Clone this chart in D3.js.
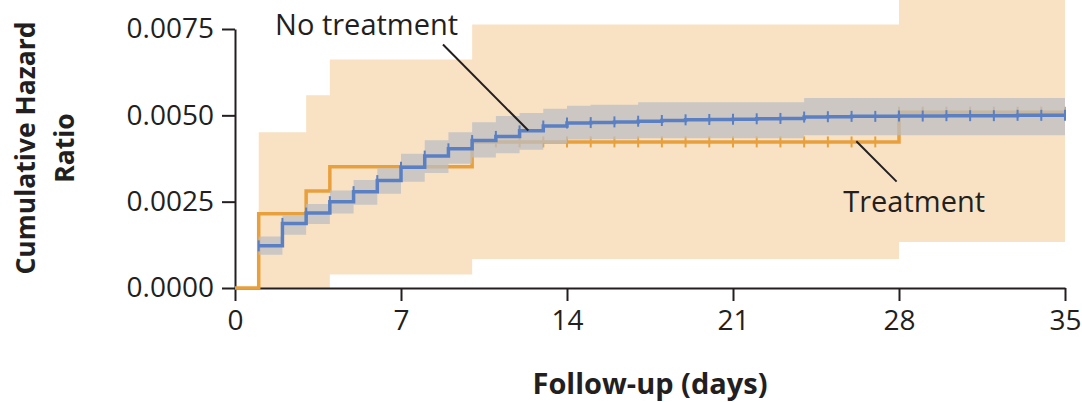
<!DOCTYPE html>
<html>
<head>
<meta charset="utf-8">
<script src="https://cdn.jsdelivr.net/npm/d3@7"></script>
<style>
  html, body { margin: 0; padding: 0; background: #ffffff; }
  svg { display: block; }
  text { font-family: "Open Sans", "Noto Sans", sans-serif; fill: #231f20; }
</style>
</head>
<body>
<svg id="chart" width="1082" height="402"></svg>
<script>
// ---- Data ----
const xTicks = [0, 7, 14, 21, 28, 35];
const yTicks = [0, 0.0025, 0.005, 0.0075];

// No treatment: cumulative hazard step at each day, with its confidence band
const noTreatmentDays = [1,2,3,4,5,6,7,8,9,10,11,12,13,14,15,16,17,18,19,20,21,22,23,24,25,26,27,28,29,30,31,32,33,34,35];
const noTreatmentHazard = [0.00122,0.00187,0.00217,0.00250,0.00279,0.00311,0.00350,0.00382,0.00403,0.00427,
  0.00439,0.00455,0.00469,0.00478,0.00479,0.00481,0.00483,0.00485,0.00487,0.00488,
  0.00489,0.00490,0.00491,0.00495,0.00496,0.00497,0.00497,0.00498,0.00498,0.00499,
  0.00499,0.00499,0.00500,0.00500,0.00500];
const noTreatmentLower = [0.00096,0.00154,0.00185,0.00216,0.00241,0.00273,0.00308,0.00333,0.00360,0.00378,
  0.00390,0.00400,0.00420,0.00430,0.00431,0.00431,0.00434,0.00434,0.00434,0.00434,
  0.00434,0.00434,0.00434,0.00442,0.00442,0.00442,0.00442,0.00442,0.00442,0.00442,
  0.00442,0.00442,0.00442,0.00442,0.00442];
const noTreatmentUpper = [0.00149,0.00209,0.00243,0.00282,0.00313,0.00347,0.00389,0.00428,0.00451,0.00480,
  0.00498,0.00507,0.00519,0.00528,0.00531,0.00531,0.00538,0.00538,0.00538,0.00538,
  0.00538,0.00538,0.00538,0.00550,0.00550,0.00550,0.00550,0.00550,0.00550,0.00550,
  0.00550,0.00550,0.00550,0.00550,0.00550];

// Treatment: step function and its confidence band
const treatmentDays = [0, 1, 3, 4, 10, 28, 35];
const treatmentHazard = [0, 0.00215, 0.00281, 0.00351, 0.00423, 0.00509, 0.00509];
const treatmentBandDays = [1, 3, 4, 10, 28, 35];
const treatmentLower = [0, 0, 0.00039, 0.00084, 0.00133, 0.00133];
const treatmentUpper = [0.00451, 0.00558, 0.00662, 0.00763, 0.0100, 0.0100];
const treatmentCensorDays = [10,11,12,13,14,15,16,17,18,19,20,21,22,23,24,25,26,27,28,29,30,31,32,33,34,35];

// Labels
const seriesLabels = ["No treatment", "Treatment"];
const xTitle = "Follow-up (days)";
const yTitleLines = ["Cumulative Hazard", "Ratio"];

// ---- Styles ----
const colors = {
  blue: "#5a80c3",
  orange: "#e8a03c",
  peach: "#f9e2c4",
  gray: "#bcbdc1",
  ink: "#231f20"
};

const svg = d3.select("#chart");
const x = d3.scaleLinear().domain([0, 35]).range([235, 1065]);
const y = d3.scaleLinear().domain([0, 0.0075]).range([288, 29]);

svg.append("defs").append("clipPath").attr("id", "clip")
  .append("rect").attr("x", 0).attr("y", 0).attr("width", 1082).attr("height", 402);

const plot = svg.append("g").attr("clip-path", "url(#clip)");

// Treatment band (peach)
const tBand = treatmentBandDays.map((d, i) => ({ d, lo: treatmentLower[i], hi: treatmentUpper[i] }));
plot.append("path")
  .datum(tBand)
  .attr("fill", colors.peach)
  .attr("d", d3.area().curve(d3.curveStepAfter)
    .x(p => x(p.d)).y0(p => y(p.lo)).y1(p => y(p.hi)));

// Axes
const xAxis = d3.axisBottom(x).tickValues(xTicks).tickSize(13).tickSizeOuter(0).tickPadding(9)
  .tickFormat(d3.format("d"));
const yAxis = d3.axisLeft(y).tickValues(yTicks).tickSize(13).tickSizeOuter(0).tickPadding(8)
  .tickFormat(d3.format(".4f"));

const gx = svg.append("g").attr("transform", `translate(0,${y(0)})`).call(xAxis);
const gy = svg.append("g").attr("transform", `translate(${x(0)},0)`).call(yAxis);
[gx, gy].forEach(g => {
  g.select(".domain").attr("stroke", colors.ink).attr("stroke-width", 2);
  g.selectAll(".tick line").attr("stroke", colors.ink).attr("stroke-width", 2);
  g.selectAll(".tick text").attr("fill", colors.ink)
    .style("font-size", "28px").style("font-family", '"Open Sans", sans-serif');
});

// Treatment line (orange)
const tLine = treatmentDays.map((d, i) => ({ d, v: treatmentHazard[i] }));
const lineGen = d3.line().curve(d3.curveStepAfter).x(p => x(p.d)).y(p => y(p.v));
svg.append("path").datum(tLine)
  .attr("fill", "none").attr("stroke", colors.orange).attr("stroke-width", 3.5)
  .attr("d", lineGen);

function stepValue(days, vals, t) {
  const i = d3.bisectRight(days, t) - 1;
  return vals[Math.max(0, i)];
}
svg.append("g").selectAll("line")
  .data(treatmentCensorDays)
  .join("line")
  .attr("x1", d => x(d)).attr("x2", d => x(d))
  .attr("y1", d => y(stepValue(treatmentDays, treatmentHazard, d)) - 5.5)
  .attr("y2", d => y(stepValue(treatmentDays, treatmentHazard, d)) + 5.5)
  .attr("stroke", colors.orange).attr("stroke-width", 2);

// No-treatment band (gray, translucent)
const nBand = noTreatmentDays.map((d, i) => ({ d, lo: noTreatmentLower[i], hi: noTreatmentUpper[i] }));
svg.append("path").datum(nBand)
  .attr("fill", colors.gray).attr("fill-opacity", 0.75)
  .attr("d", d3.area().curve(d3.curveStepAfter)
    .x(p => x(p.d)).y0(p => y(p.lo)).y1(p => y(p.hi)));

// No-treatment line (blue)
const nLine = noTreatmentDays.map((d, i) => ({ d, v: noTreatmentHazard[i] }));
svg.append("path").datum(nLine)
  .attr("fill", "none").attr("stroke", colors.blue).attr("stroke-width", 3.5)
  .attr("d", lineGen);
svg.append("g").selectAll("line")
  .data(nLine)
  .join("line")
  .attr("x1", p => x(p.d)).attr("x2", p => x(p.d))
  .attr("y1", p => y(p.v) - 5.5).attr("y2", p => y(p.v) + 5.5)
  .attr("stroke", colors.blue).attr("stroke-width", 2);

// Annotations (positions in data units)
const annotations = [
  { text: seriesLabels[0], tx: 5.55, ty: 0.00734, from: [8.77, 0.00705], to: [12.37, 0.00456] },
  { text: seriesLabels[1], tx: 28.64, ty: 0.00221, from: [27.9, 0.00308], to: [26.2, 0.00425] }
];
annotations.forEach(a => {
  svg.append("line")
    .attr("x1", x(a.from[0])).attr("y1", y(a.from[1]))
    .attr("x2", x(a.to[0])).attr("y2", y(a.to[1]))
    .attr("stroke", colors.ink).attr("stroke-width", 2);
  svg.append("text")
    .attr("x", x(a.tx)).attr("y", y(a.ty))
    .attr("text-anchor", "middle")
    .style("font-size", "29px")
    .text(a.text);
});

// Axis titles
svg.append("text")
  .attr("x", (x(0) + x(35)) / 2).attr("y", 394)
  .attr("text-anchor", "middle")
  .style("font-size", "29px").style("font-weight", "bold")
  .text(xTitle);

const yTitle = svg.append("text")
  .attr("transform", "translate(35,148) rotate(-90)")
  .attr("text-anchor", "middle")
  .style("font-size", "26.5px").style("font-weight", "bold");
yTitle.append("tspan").attr("x", 0).attr("y", 0).text(yTitleLines[0]);
yTitle.append("tspan").attr("x", 0).attr("y", 39).text(yTitleLines[1]);
</script>
</body>
</html>
